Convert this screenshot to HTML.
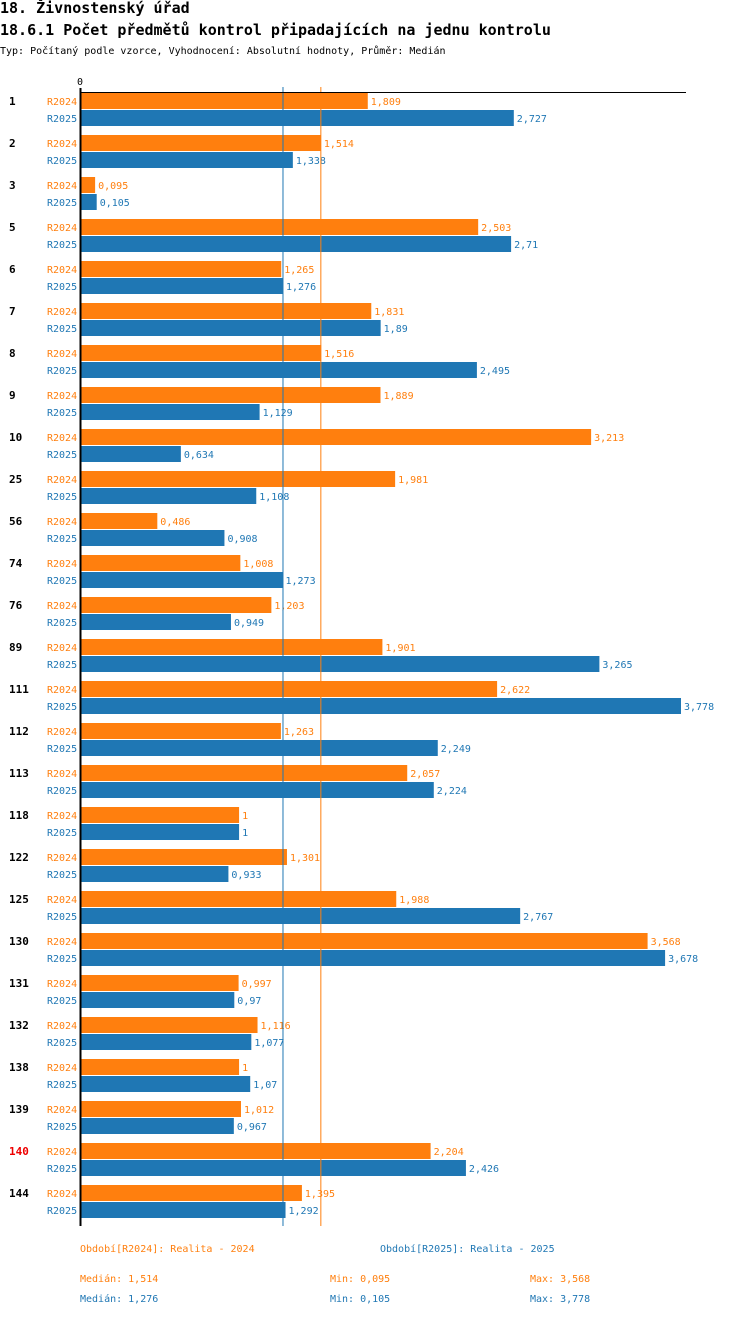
<!DOCTYPE html>
<html><head><meta charset="utf-8"><style>
body{margin:0;background:#fff;width:750px;height:1316px;overflow:hidden;font-family:"DejaVu Sans Mono","Liberation Mono",monospace}
svg text{font-family:"DejaVu Sans Mono","Liberation Mono",monospace}
</style></head><body>
<svg id="c" width="750" height="1316">
<text x="0" y="13" font-size="15" font-weight="bold">18. Živnostenský úřad</text>
<text x="0" y="35" font-size="15" font-weight="bold">18.6.1 Počet předmětů kontrol připadajících na jednu kontrolu</text>
<text x="0" y="54" font-size="10">Typ: Počítaný podle vzorce, Vyhodnocení: Absolutní hodnoty, Průměr: Medián</text>
<text x="77" y="85" font-size="10">0</text>
<g id="bars"></g>
</svg>
<script>
const categories=["1","2","3","5","6","7","8","9","10","25","56","74","76","89","111","112","113","118","122","125","130","131","132","138","139","140","144"];
const r2024=[1.809,1.514,0.095,2.503,1.265,1.831,1.516,1.889,3.213,1.981,0.486,1.008,1.203,1.901,2.622,1.263,2.057,1,1.301,1.988,3.568,0.997,1.116,1,1.012,2.204,1.395];
const r2025=[2.727,1.338,0.105,2.71,1.276,1.89,2.495,1.129,0.634,1.108,0.908,1.273,0.949,3.265,3.778,2.249,2.224,1,0.933,2.767,3.678,0.97,1.077,1.07,0.967,2.426,1.292];
const median2024=1.514, median2025=1.276;
const stats=[["Medián: 1,514","Min: 0,095","Max: 3,568"],["Medián: 1,276","Min: 0,105","Max: 3,778"]];
const O="#ff7f0e",B="#1f77b4",NS="http://www.w3.org/2000/svg";
const x0=80,k=601/3.778,top0=93,step=42;
const X=v=>x0+v*k;
const g=document.getElementById('bars');
function mk(t,a,txt){const e=document.createElementNS(NS,t);for(const n in a)e.setAttribute(n,a[n]);if(txt!=null)e.textContent=txt;g.appendChild(e);return e;}
const fmt=v=>String(v).replace('.',',');
categories.forEach((c,i)=>{
  const y=top0+i*step;
  const l=mk('text',{x:9,y:y+12,'font-size':11,'font-weight':'bold',fill:c==="140"?"#e00":"#000"},c);
  
  
  [[r2024[i],O,"R2024",0],[r2025[i],B,"R2025",17]].forEach(([v,col,s,dy])=>{
    const sl=mk('text',{x:47,y:y+dy+12,'font-size':10,fill:col},s);
    
    
    const r=mk('rect',{x:x0,y:y+dy,width:v*k,height:16,fill:col});
    
    
    const vl=mk('text',{x:X(v)+3,y:y+dy+12,'font-size':10,fill:col},fmt(v));
    
    
  });
});
const m1=mk('line',{x1:X(median2024),x2:X(median2024),y1:87,y2:1226,stroke:O,'stroke-width':1});


const m2=mk('line',{x1:X(median2025),x2:X(median2025),y1:87,y2:1226,stroke:B,'stroke-width':1});


const ax=mk('line',{x1:80.5,x2:80.5,y1:88,y2:1226,stroke:"#000",'stroke-width':2});


const tx=mk('line',{x1:80,x2:686,y1:92.5,y2:92.5,stroke:"#000",'stroke-width':1});


const lg1=mk('text',{x:80,y:1252,'font-size':10,fill:O},"Období[R2024]: Realita - 2024");


const lg2=mk('text',{x:380,y:1252,'font-size':10,fill:B},"Období[R2025]: Realita - 2025");


stats.forEach((row,j)=>{row.forEach((s,n)=>{
  const t=mk('text',{x:[80,330,530][n],y:1282+j*20,'font-size':10,fill:j?B:O},s);
  
  
});});
</script>
</body></html>
